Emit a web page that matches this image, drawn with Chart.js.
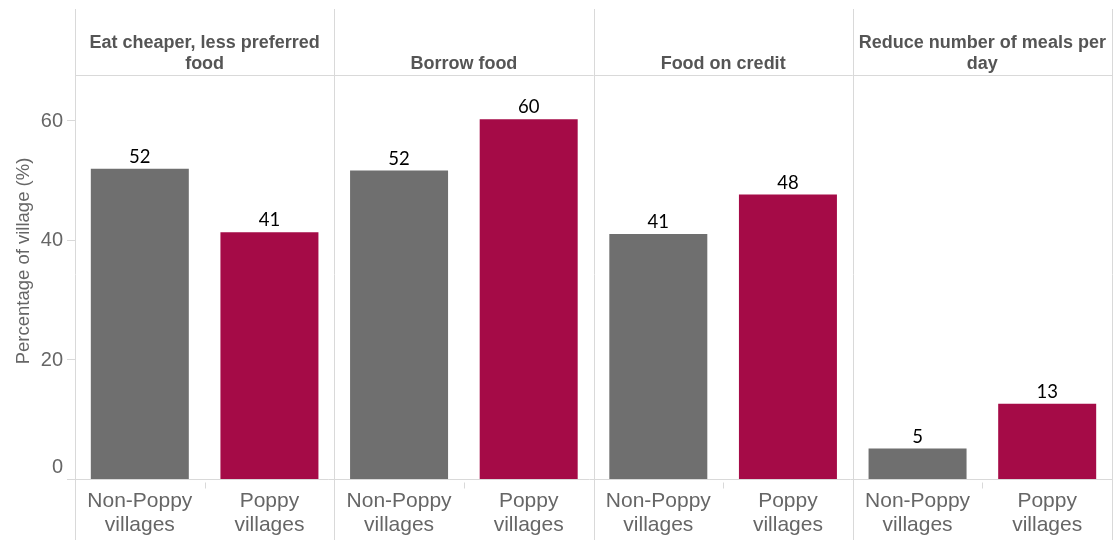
<!DOCTYPE html>
<html>
<head>
<meta charset="utf-8">
<script src="https://cdn.jsdelivr.net/npm/chart.js@4/dist/chart.umd.min.js"></script>
<style>
  html, body { margin: 0; padding: 0; background: #fff; }
  #wrap { width: 1113px; height: 540px; position: relative; }
</style>
</head>
<body>
<div id="wrap"><canvas id="c" width="1113" height="540"></canvas></div>
<script>
// ---- data ----
const panelTitles = [
  ["Eat cheaper, less preferred", "food"],
  ["Borrow food"],
  ["Food on credit"],
  ["Reduce number of meals per", "day"]
];
const groupLabels = [["Non-Poppy", "villages"], ["Poppy", "villages"]];
const nonPoppyValues = [51.9, 51.6, 41.0, 5.1];
const poppyValues = [41.3, 60.2, 47.6, 12.6];
const yTickValues = [0, 20, 40, 60];
const yTitle = "Percentage of village (%)";

// ---- build ----
const labels = [];
const values = [];
const colors = [];
const GRAY = '#6f6f6f', RED = '#a50b47';
for (let i = 0; i < panelTitles.length; i++) {
  labels.push(groupLabels[0]); values.push(nonPoppyValues[i]); colors.push(GRAY);
  labels.push(groupLabels[1]); values.push(poppyValues[i]); colors.push(RED);
}

const LINE = '#d9d9d9';
const facetPlugin = {
  id: 'facet',
  afterDraw(chart) {
    const ctx = chart.ctx;
    const ca = chart.chartArea;
    const xs = chart.scales.x, ys = chart.scales.y;
    ctx.save();
    ctx.strokeStyle = LINE;
    ctx.lineWidth = 1;
    // panel boundaries
    const bounds = [ca.left];
    for (let p = 1; p < panelTitles.length; p++) {
      bounds.push((xs.getPixelForValue(2 * p - 1) + xs.getPixelForValue(2 * p)) / 2);
    }
    bounds.push(ca.right);
    ctx.beginPath();
    bounds.forEach(b => { const x = Math.round(b) + 0.5; ctx.moveTo(x, 9); ctx.lineTo(x, 540); });
    // header line
    ctx.moveTo(ca.left, Math.round(ca.top) + 0.5); ctx.lineTo(ca.right, Math.round(ca.top) + 0.5);
    // baseline
    const by = Math.round(ys.getPixelForValue(0)) + 0.5;
    ctx.moveTo(67, by); ctx.lineTo(ca.right, by);
    // y tick marks
    yTickValues.forEach(v => {
      if (v === 0) return;
      const y = Math.round(ys.getPixelForValue(v)) + 0.5;
      ctx.moveTo(67, y); ctx.lineTo(ca.left, y);
    });
    // small ticks between categories inside a panel
    for (let p = 0; p < panelTitles.length; p++) {
      const x = Math.round((xs.getPixelForValue(2 * p) + xs.getPixelForValue(2 * p + 1)) / 2) + 0.5;
      ctx.moveTo(x, by + 3); ctx.lineTo(x, by + 9);
    }
    ctx.stroke();

    // y tick labels
    ctx.fillStyle = '#666';
    ctx.font = '20px "Liberation Sans", Arial, sans-serif';
    ctx.textAlign = 'right';
    ctx.textBaseline = 'middle';
    yTickValues.forEach(v => {
      let y = ys.getPixelForValue(v);
      if (v === 0) y -= 13;
      ctx.fillText(String(v), 63, y + 1);
    });

    // y title
    ctx.save();
    ctx.translate(24, 261);
    ctx.rotate(-Math.PI / 2);
    ctx.textAlign = 'center';
    ctx.textBaseline = 'middle';
    ctx.font = '18.5px "Liberation Sans", Arial, sans-serif';
    ctx.fillStyle = '#666';
    ctx.fillText(yTitle, 0, 0);
    ctx.restore();

    // headers
    ctx.fillStyle = '#555';
    ctx.font = 'bold 18px "Liberation Sans", Arial, sans-serif';
    ctx.textAlign = 'center';
    ctx.textBaseline = 'middle';
    panelTitles.forEach((lines, p) => {
      const cx = (bounds[p] + bounds[p + 1]) / 2;
      const last = lines.length - 1;
      lines.forEach((t, i) => {
        ctx.fillText(t, cx, 64 - (last - i) * 21);
      });
    });

    // data labels
    const meta = chart.getDatasetMeta(0);
    ctx.fillStyle = '#000';
    ctx.font = '18.5px Lato, "Open Sans", sans-serif';
    ctx.textAlign = 'center';
    ctx.textBaseline = 'alphabetic';
    meta.data.forEach((bar, i) => {
      ctx.fillText(String(Math.round(values[i])), bar.x, bar.y - 6);
    });
    ctx.restore();
  }
};

new Chart(document.getElementById('c'), {
  type: 'bar',
  data: {
    labels: labels,
    datasets: [{
      data: values,
      backgroundColor: colors,
      borderWidth: 0,
      barPercentage: 0.756,
      categoryPercentage: 1.0
    }]
  },
  options: {
    responsive: false,
    animation: false,
    devicePixelRatio: 1,
    layout: { padding: { top: 75, right: 1, left: 0, bottom: 0 } },
    plugins: { legend: { display: false }, tooltip: { enabled: false }, title: { display: false } },
    scales: {
      x: {
        grid: { display: false, drawTicks: false },
        border: { display: false },
        ticks: {
          color: '#666',
          font: { family: '"Liberation Sans", Arial, sans-serif', size: 21, lineHeight: 1.143 },
          padding: 10,
          maxRotation: 0,
          autoSkip: false
        },
        afterFit(scale) { scale.height = 61; }
      },
      y: {
        min: 0,
        max: 67.6,
        grid: { display: false },
        border: { display: false },
        ticks: { display: false, stepSize: 20 },
        afterFit(scale) { scale.width = 75; }
      }
    }
  },
  plugins: [facetPlugin]
});
</script>
</body>
</html>
